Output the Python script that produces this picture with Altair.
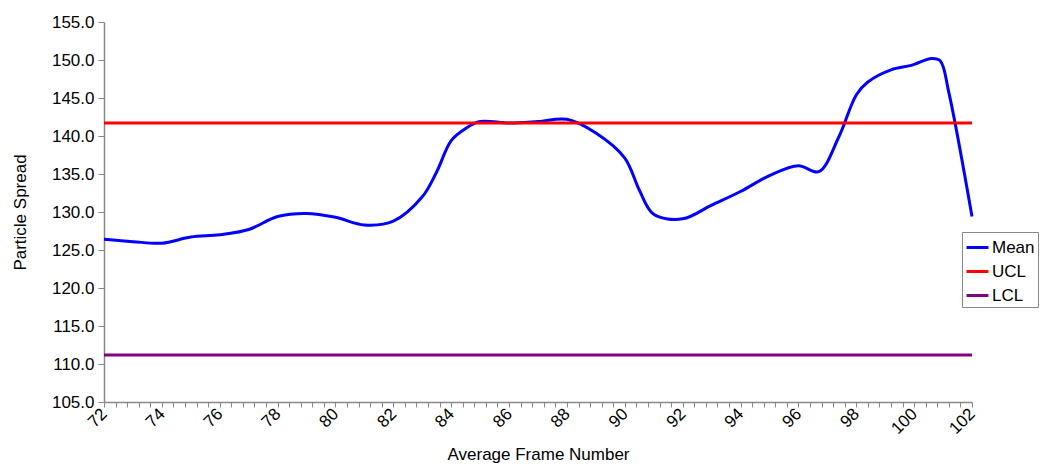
import altair as alt
import pandas as pd

mean_x = [72, 73, 74, 75, 76, 77, 78, 79, 80, 81, 82, 83, 83.5, 84, 84.5, 85, 86, 87, 88,
          89, 90, 90.5, 91, 92, 93, 94, 95, 96, 96.7, 97.4, 98, 98.4, 99.2, 99.9, 100.6,
          100.9, 101.2, 102]
mean_y = [126.4, 126.1, 125.9, 126.7, 127.0, 127.7, 129.4, 129.8, 129.3, 128.3, 128.8,
          132.0, 135.3, 139.4, 141.0, 141.9, 141.7, 141.9, 142.2, 140.4, 137.1, 132.9,
          129.7, 129.1, 130.9, 132.7, 134.8, 136.1, 135.3, 139.9, 145.4, 147.1, 148.7,
          149.3, 150.2, 149.9, 145.7, 129.4]
ucl_value = 141.7
lcl_value = 111.2
x_range = [72, 102]
series_names = ["Mean", "UCL", "LCL"]
series_colors = ["#0000FF", "#FF0000", "#800080"]

rows = []
for i, (x, y) in enumerate(zip(mean_x, mean_y)):
    rows.append({"x": x, "y": y, "series": "Mean", "order": i})
for i, x in enumerate(x_range):
    rows.append({"x": x, "y": ucl_value, "series": "UCL", "order": i})
    rows.append({"x": x, "y": lcl_value, "series": "LCL", "order": i})
df = pd.DataFrame(rows)

x_ticks = [round(72 + 0.4 * k, 1) for k in range(76)]
font = "Liberation Sans"

chart = alt.Chart(df).mark_line(interpolate="catmull-rom", strokeWidth=3).encode(
    x=alt.X("x:Q", scale=alt.Scale(domain=[72, 102], nice=False, zero=False),
            axis=alt.Axis(title="Average Frame Number", values=x_ticks,
                          labelExpr="datum.value % 2 == 0 ? datum.value : ''",
                          labelAngle=-45, labelAlign="right", labelBaseline="middle",
                          labelPadding=4, tickSize=5, labelFlush=False, labelOverlap=False,
                          titlePadding=10)),
    y=alt.Y("y:Q", scale=alt.Scale(domain=[105, 155], nice=False, zero=False),
            axis=alt.Axis(title="Particle Spread", values=list(range(105, 156, 5)),
                          format=".1f", tickSize=6, labelPadding=4, titlePadding=22)),
    color=alt.Color("series:N", scale=alt.Scale(domain=series_names, range=series_colors),
                    legend=alt.Legend(title=None, orient="none", legendX=858, legendY=210,
                                      symbolType="stroke", symbolStrokeWidth=3,
                                      symbolSize=480, labelFontSize=17, labelFont=font,
                                      strokeColor="#888888", padding=3, rowPadding=3,
                                      labelOffset=2, fillColor="white")),
    order="order:Q",
).properties(
    width=868, height=380,
    autosize=alt.AutoSizeParams(type="none"),
    padding={"left": 96, "top": 14, "right": 74, "bottom": 62},
).configure_axis(
    labelFont=font, titleFont=font, labelFontSize=17, titleFontSize=17,
    labelColor="#000000", titleColor="#000000", titleFontWeight="normal",
    domainColor="#888888", tickColor="#888888", grid=False, domainWidth=1.5,
).configure_view(stroke=None)

chart.save("out.html", embed_options={"renderer": "svg", "actions": False})
